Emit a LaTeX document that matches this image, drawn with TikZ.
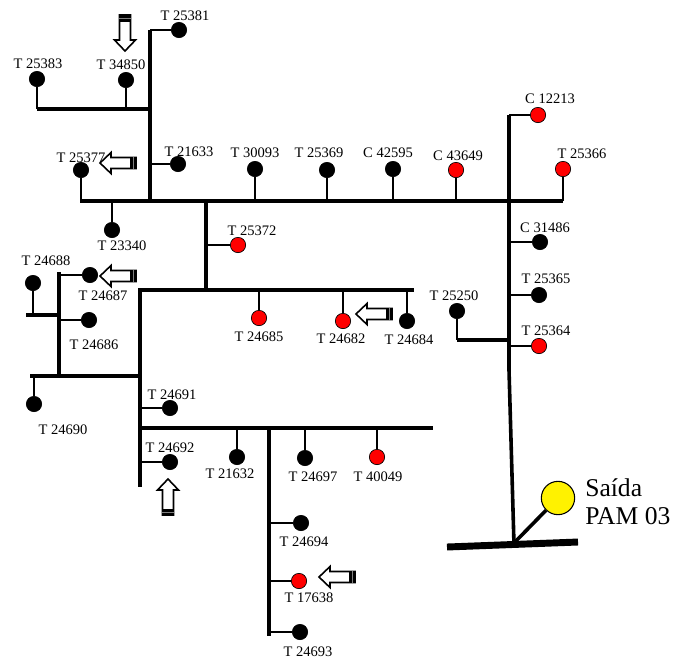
\documentclass[tikz,border=0pt]{standalone}
\usepackage{fontspec}
\setmainfont{Liberation Serif}
\begin{document}
\begin{tikzpicture}[
    x=0.75pt, y=-0.75pt,
    bus/.style={line width=2.7pt},
    stub/.style={line width=0.9pt},
    post/.style={draw, circle, fill=black, minimum size=11.5pt, inner sep=0pt, line width=0.5pt},
    tag/.style={font=\fontsize{10.9}{12}\selectfont, inner sep=0pt, yshift=-0.6pt},
    flow/.pic={
      \draw[line width=1.2pt, fill=white, miter limit=10] (0,0) -- (-11,-10.5) -- (-11,-5.5) -- (-36,-5.5)
        -- (-36,5.5) -- (-11,5.5) -- (-11,10.5) -- cycle;
      \fill (-36,-6.2) rectangle (-29.5,6.2);
      \draw[gray, line width=0.3pt] (-33,-6) -- (-33,6);
    },
  ]
    \useasboundingbox (0,0) rectangle (684,658);
    % Junctions of the feeder
    \foreach \nm/\x/\y in {a/150/30, b/150/201, c/37/109, d/150/109, e/80/201, f/563/201,
      g/509/115, h/509/370, i/514/545, j/206/201, k/206/290, l/141/290, m/414/290,
      n/140/288, o/140/487, p/30/376, q/140/376, r/59/272, s/59/376, u/26/315, v/59/315,
      w/140/428, z/433/428, aa/269/428, ab/269/636, ac/457/340, ad/509/340, ae/447/547, af/578/542} {
      \coordinate (\nm) at (\x,\y);
    }
    % Main lines
    \foreach \p/\q in {a/b, c/d, e/f, g/h, j/k, l/m, n/o, p/q, r/s, u/v, w/z, aa/ab, ac/ad} {
      \draw[bus] (\p) -- (\q);
    }
    \draw[line width=2.7pt] (h) -- (i);
    \draw[line width=5.2pt] (ae) -- (af);
    % Posts: name / text / post x,y / text x,y / line end x,y / colour
    \foreach \nm/\txt/\x/\y/\lx/\ly/\bx/\by/\col in {
      t25381/T 25381/179/30/185/15/150/30/black,
      t25383/T 25383/37/79/38/63/37/109/black,
      t34850/T 34850/126/80/121/64/126/109/black,
      t25377/T 25377/81/170/81/157/81/201/black,
      t21633/T 21633/178/164/189/151/150/164/black,
      t30093/T 30093/255/169/255/152/255/201/black,
      t25369/T 25369/327/170/319/152/327/201/black,
      c42595/C 42595/393/169/388/152/393/201/black,
      c43649/C 43649/456/170/458/155/456/201/red,
      c12213/C 12213/538/115/550/98/509/115/red,
      t25366/T 25366/563/169/582/153/563/201/red,
      t23340/T 23340/112/230/122/245/112/201/black,
      t25372/T 25372/238/245/252/230/206/245/red,
      c31486/C 31486/540/242/545/227/509/242/black,
      t25365/T 25365/539/295/546/278/509/295/black,
      t25364/T 25364/539/346/546/330/509/346/red,
      t25250/T 25250/457/311/454/295/457/340/black,
      t24684/T 24684/407/321/409/339/407/290/black,
      t24682/T 24682/343/321/341/338/343/290/red,
      t24685/T 24685/259/318/259/336/259/290/red,
      t24688/T 24688/33/283/46/260/33/315/black,
      t24687/T 24687/90/275/103/295/59/275/black,
      t24686/T 24686/89/320/94/344/59/320/black,
      t24690/T 24690/34/404/63/429/34/376/black,
      t24691/T 24691/170/408/172/394/140/408/black,
      t24692/T 24692/170/462/170/447/140/462/black,
      t21632/T 21632/237/457/230/473/237/428/black,
      t24697/T 24697/305/458/313/476/305/428/black,
      t40049/T 40049/377/457/378/476/377/428/red,
      t24694/T 24694/301/523/304/541/269/523/black,
      t17638/T 17638/299/581/309/597/269/581/red,
      t24693/T 24693/300/632/308/651/269/632/black} {
      \node[post, fill=\col] (\nm) at (\x,\y) {};
      \coordinate (\nm end) at (\bx,\by);
      \draw[stub] (\nm) -- (\nm end);
      \node[tag] (\nm text) at (\lx,\ly) {\txt};
    }
    % Arrows
    \foreach \x/\y/\r in {125/51/-90, 100/163/180, 100/276/180, 356/314/180, 168/479/90, 319/577/180} {
      \pic[rotate=\r] at (\x,\y) {flow};
    }
    % Exit
    \node[draw, circle, fill=yellow, minimum size=25pt, inner sep=0pt, line width=0.8pt] (saida) at (558,498) {};
    \coordinate (saidaend) at (514,543);
    \draw[line width=2.7pt] (saida) -- (saidaend);
    \node[font=\fontsize{19.2}{21}\selectfont, inner sep=0pt, align=left, anchor=west] (saidatext) at (585,502) {Saída\\PAM 03};
  \end{tikzpicture}
\end{document}
